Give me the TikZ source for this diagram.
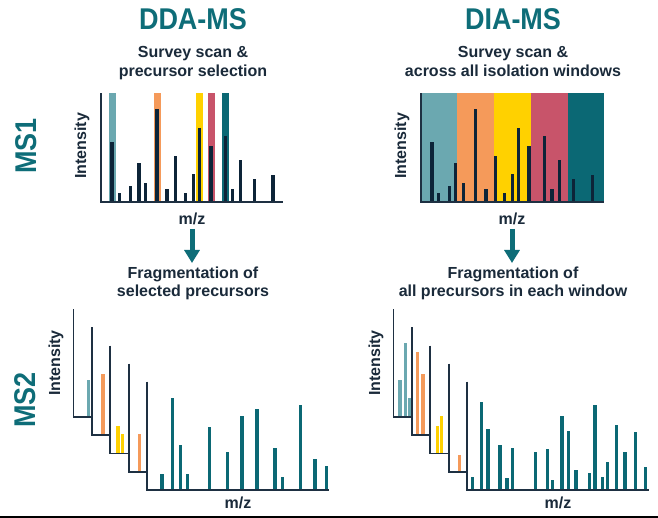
\documentclass[tikz,border=0pt]{standalone}
\usepackage{fontspec}
\setmainfont{Liberation Sans}
\newfontfamily\titlefont{Liberation Sans}[FakeStretch=0.9]
\usetikzlibrary{arrows.meta}
\definecolor{titleteal}{HTML}{0E6D78}
\definecolor{tealdark}{HTML}{0B6874}
\definecolor{teallight}{HTML}{6BA8B0}
\definecolor{winorange}{HTML}{F59A5A}
\definecolor{winyellow}{HTML}{FFD100}
\definecolor{winrose}{HTML}{C8546A}
\definecolor{barnavy}{HTML}{0D2438}
\definecolor{axisnavy}{HTML}{1E3042}
\definecolor{textnavy}{HTML}{1A2A3A}
\begin{document}
\begin{tikzpicture}[x=1pt,y=-1pt,
  lbl/.style={font=\fontsize{16}{18.4}\selectfont\bfseries, text=textnavy, inner sep=0pt},
  ttl/.style={font=\titlefont\fontsize{30}{32}\selectfont\bfseries, text=titleteal, inner sep=0pt},
  axisline/.style={line width=1.9pt, draw=axisnavy},
  bigarrow/.style={line width=5pt, draw=titleteal, -{Triangle[width=15pt,length=13pt]}}]
\useasboundingbox (0,0) rectangle (658,518);
\fill[white] (0,0) rectangle (658,518);

% ---------- titles ----------
\node[ttl, anchor=base] (tDDA) at (193,30) {DDA-MS};
\node[ttl, anchor=base] (tDIA) at (513,30) {DIA-MS};
\node[lbl, anchor=base] (sL1) at (193,58) {Survey scan \&};
\node[lbl, anchor=base] (sL2) at (193,76.4) {precursor selection};
\node[lbl, anchor=base] (sR1) at (513,58) {Survey scan \&};
\node[lbl, anchor=base] (sR2) at (513,76.4) {across all isolation windows};

% ---------- side labels ----------
\node[ttl, rotate=90] (ms1) at (26,146) {MS1};
\node[ttl, rotate=90] (ms2) at (25,400) {MS2};
\node[lbl, rotate=90] (iL1) at (82,146) {Intensity};
\node[lbl, rotate=90] (iR1) at (402,146) {Intensity};
\node[lbl, rotate=90] (iL2) at (56,363) {Intensity};
\node[lbl, rotate=90] (iR2) at (376,363) {Intensity};

% ---------- MS1 left (DDA) ----------
\fill[teallight] (109.2,93.3) rectangle (116.2,201.7);
\fill[winorange] (153.5,93.3) rectangle (160.5,201.7);
\fill[winyellow] (196.2,93.3) rectangle (203.2,201.7);
\fill[winrose]   (207.7,93.3) rectangle (214.7,201.7);
\fill[tealdark]  (222,93.3) rectangle (229,201.7);
\foreach \x/\t in {112/141.7,119.3/193.3,130.3/186,139/163.3,145.3/182.7,157/109,167/189.3,175.3/156,185.3/193.3,193.3/174.3,199.7/127.7,211/145.7,225.3/135.7,232.7/189.3,240.3/160,254.7/178.7,273/175}
  \fill[barnavy] (\x-1.6,\t) rectangle (\x+1.6,201.7);
\draw[axisline] (101,93.3) -- (101,201.7) -- (283,201.7);
\node[lbl, anchor=base] (mzL1) at (192,225) {m/z};

% ---------- MS1 right (DIA) ----------
\fill[teallight] (421,93.3) rectangle (457,201.7);
\fill[winorange] (457,93.3) rectangle (494,201.7);
\fill[winyellow] (494,93.3) rectangle (530.7,201.7);
\fill[winrose]   (530.7,93.3) rectangle (567.7,201.7);
\fill[tealdark]  (567.7,93.3) rectangle (604.3,201.7);
\foreach \x/\t in {432/141.7,438.3/193.3,449.3/186,455.5/163.3,463.7/182.7,475.7/109,486/189.3,495.7/156,504.3/193.3,512.3/174.3,518.7/127.7,529/145.7,544.7/135.7,552/189.3,559.3/160,573.7/178.7,592.7/175}
  \fill[barnavy] (\x-1.6,\t) rectangle (\x+1.6,201.7);
\draw[axisline] (421,93.3) -- (421,201.7) -- (604.3,201.7);
\node[lbl, anchor=base] (mzR1) at (512,225) {m/z};

% ---------- arrows ----------
\coordinate (aLs) at (192,229);
\coordinate (aLe) at (192,263);
\coordinate (aRs) at (512,229);
\coordinate (aRe) at (512,263);
\draw[bigarrow] (aLs) -- (aLe);
\draw[bigarrow] (aRs) -- (aRe);

\node[lbl, anchor=base] (fL1) at (193,278.3) {Fragmentation of};
\node[lbl, anchor=base] (fL2) at (193,296.7) {selected precursors};
\node[lbl, anchor=base] (fR1) at (513,278.3) {Fragmentation of};
\node[lbl, anchor=base] (fR2) at (513,296.7) {all precursors in each window};

% ---------- MS2 left (DDA) ----------
\fill[teallight] (88.3-1.6,380) rectangle (88.3+1.6,417.3);
\fill[winorange] (103-1.6,374) rectangle (103+1.6,435.4);
\foreach \x/\t in {118/425.7,122.3/434}
  \fill[winyellow] (\x-1.6,\t) rectangle (\x+1.6,453.5);
\fill[winorange] (139.3-1.6,434) rectangle (139.3+1.6,471.6);
\foreach \x/\t in {162/474,172.7/398,180.3/445,187.7/474,209.3/426.7,227.7/452.3,242/416,257/409,275/448,282.3/477.3,300.7/405.3,315/459.3,326.3/466.3}
  \fill[tealdark] (\x-1.6,\t) rectangle (\x+1.6,489.7);
\foreach \xa/\ya/\xb in {73.5/309.3/91.95, 91.95/327.4/110.4, 110.4/345.5/128.85, 128.85/363.6/147.3, 147.3/381.7/329.3}
  \draw[axisline] (\xa,\ya) -- (\xa,\ya+108) -- (\xb,\ya+108);
\node[lbl, anchor=base] (mzL2) at (238,508) {m/z};

% ---------- MS2 right (DIA) ----------
\foreach \x/\t in {400/380,405.3/343.3,410/397.7}
  \fill[teallight] (\x-1.6,\t) rectangle (\x+1.6,417.3);
\foreach \x/\t in {417.7/352.3,423/374.3}
  \fill[winorange] (\x-1.6,\t) rectangle (\x+1.6,435.4);
\foreach \x/\t in {437.3/426,441.7/416}
  \fill[winyellow] (\x-1.6,\t) rectangle (\x+1.6,453.5);
\fill[winorange] (459.3-1.6,455) rectangle (459.3+1.6,471.6);
\foreach \x/\t in {472.7/476.7,481.3/401.7,488/429,500/445.3,507/478,512.3/447.7,535.3/451.7,547.3/448.7,552.3/480,562/416,568.7/430.7,576/469.7,589.3/473,595/405.3,602.3/477.3,607.3/462,616.3/424.7,625/452,635.3/432.3,645.7/466.7}
  \fill[tealdark] (\x-1.6,\t) rectangle (\x+1.6,489.7);
\foreach \xa/\ya/\xb in {393.5/309.3/411.95, 411.95/327.4/430.4, 430.4/345.5/448.85, 448.85/363.6/467.3, 467.3/381.7/649.3}
  \draw[axisline] (\xa,\ya) -- (\xa,\ya+108) -- (\xb,\ya+108);
\node[lbl, anchor=base] (mzR2) at (558,508) {m/z};

% ---------- bottom rule ----------
\draw[line width=1.5pt, black] (0,516.8) -- (658,516.8);
\end{tikzpicture}
\end{document}
